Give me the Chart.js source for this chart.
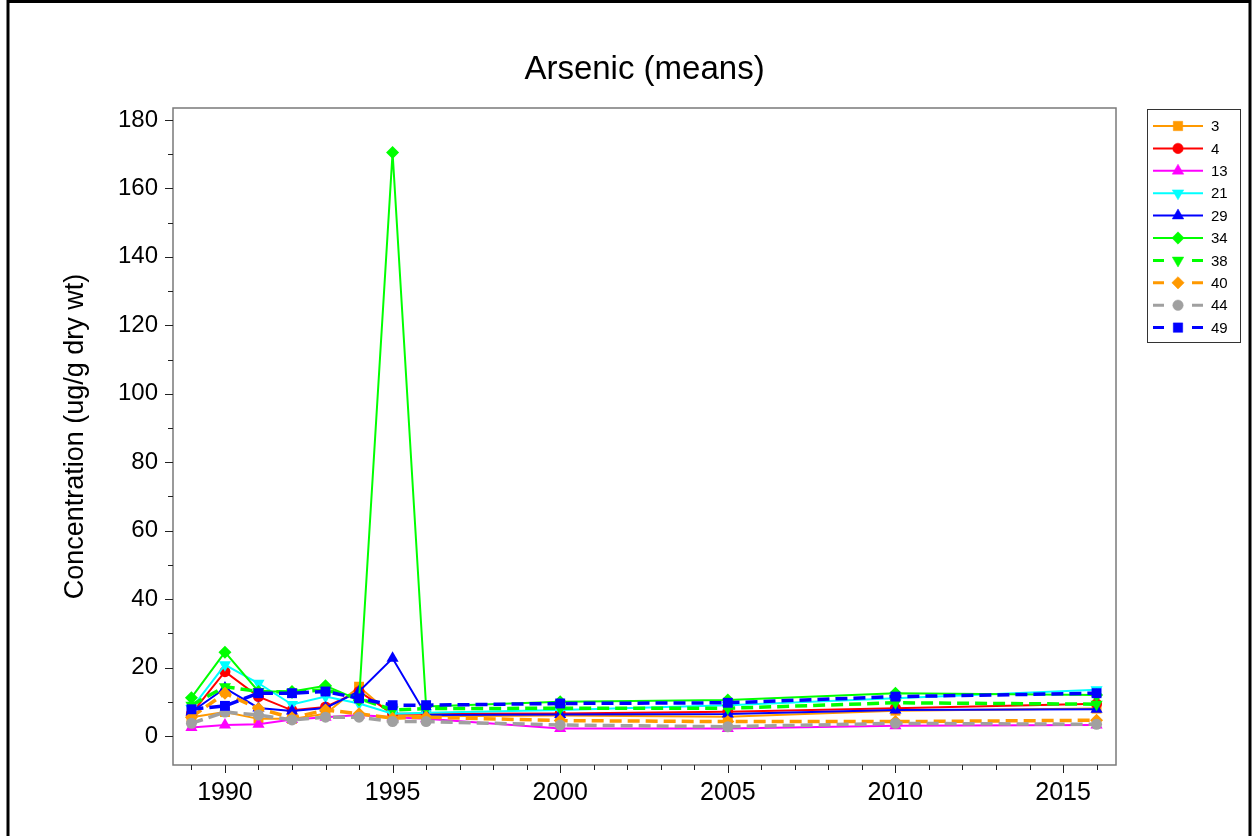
<!DOCTYPE html>
<html>
<head>
<meta charset="utf-8">
<script src="https://cdn.jsdelivr.net/npm/chart.js@4.4.1/dist/chart.umd.min.js"></script>
<style>
  html, body { margin: 0; padding: 0; background: #fff; overflow: hidden; }
  #wrap { width: 1253px; height: 836px; position: relative; }
</style>
</head>
<body>
<div id="wrap"><canvas id="arsenicChart" width="1253" height="836"></canvas></div>
<script>
// Sampling years and mean arsenic per site (ug/g dry wt)
const years = [1989, 1990, 1991, 1992, 1993, 1994, 1995, 1996, 2000, 2005, 2010, 2016];
const siteNames = ['3', '4', '13', '21', '29', '34', '38', '40', '44', '49'];

const site3  = [5.5, 7.0, 5.0, 5.0, 6.5, 14.4, 6.0, 5.8, 6.0, 5.6, 7.4, 8.0];
const site4  = [6.5, 18.8, 11.5, 7.5, 8.5, 13.0, 6.5, 6.5, 6.6, 7.1, 8.1, 9.4];
const site13 = [2.5, 3.2, 3.4, 4.8, 5.5, 6.1, 5.5, 5.0, 2.2, 2.2, 3.0, 3.2];
const site21 = [8.0, 20.8, 15.4, 9.2, 11.5, 9.5, 6.5, 6.8, 7.6, 9.0, 11.0, 13.5];
const site29 = [7.0, 14.0, 8.2, 7.3, 8.2, 13.0, 22.7, 6.1, 6.3, 6.4, 7.6, 7.8];
const site34 = [11.2, 24.5, 13.0, 13.0, 14.7, 10.5, 170.5, 8.6, 10.0, 10.5, 12.5, 12.0];
const site38 = [9.0, 14.4, 13.0, 12.8, 13.5, 11.0, 7.6, 8.0, 8.1, 8.1, 9.7, 9.3];
const site40 = [5.5, 12.5, 8.0, 5.3, 7.6, 6.5, 5.2, 5.5, 4.5, 4.2, 4.2, 4.6];
const site44 = [3.7, 7.0, 6.1, 4.7, 5.5, 5.5, 4.2, 4.2, 3.2, 2.7, 3.7, 3.4];
const site49 = [7.8, 8.8, 12.5, 12.5, 13.0, 11.0, 9.0, 9.0, 9.5, 9.7, 11.5, 12.5];

const xTickLabels = [1990, 1995, 2000, 2005, 2010, 2015];
const yTickLabels = [0, 20, 40, 60, 80, 100, 120, 140, 160, 180];

const siteValues = [site3, site4, site13, site21, site29, site34, site38, site40, site44, site49];

// line style per site: colour, marker, rotation, dashed
const styles = [
  { color: '#FF9900', marker: 'rect',     rot: 0,   dashed: false, r: 7 },
  { color: '#FF0000', marker: 'circle',   rot: 0,   dashed: false, r: 5.5 },
  { color: '#FF00FF', marker: 'triangle', rot: 0,   dashed: false, r: 7 },
  { color: '#00FFFF', marker: 'triangle', rot: 180, dashed: false, r: 7 },
  { color: '#0000FF', marker: 'triangle', rot: 0,   dashed: false, r: 7 },
  { color: '#00FF00', marker: 'rectRot',  rot: 0,   dashed: false, r: 6.5 },
  { color: '#00FF00', marker: 'triangle', rot: 180, dashed: true,  r: 7 },
  { color: '#FF9900', marker: 'rectRot',  rot: 0,   dashed: true,  r: 6.5 },
  { color: '#A0A0A0', marker: 'circle',   rot: 0,   dashed: true,  r: 5.5 },
  { color: '#0000FF', marker: 'rect',     rot: 0,   dashed: true,  r: 7 },
];

const datasets = siteValues.map((vals, i) => {
  const s = styles[i];
  return {
    label: siteNames[i],
    data: vals.map((v, j) => ({ x: years[j], y: v })),
    borderColor: s.color,
    backgroundColor: s.color,
    borderWidth: s.dashed ? 3.5 : 2,
    borderDash: s.dashed ? [12, 6] : [],
    pointStyle: s.marker,
    pointRotation: s.rot,
    pointRadius: s.r,
    pointBorderWidth: 0,
    pointBorderColor: s.color,
    pointBackgroundColor: s.color,
    tension: 0,
    order: siteValues.length - i,
  };
});

const FONT = '"Liberation Sans", Arial, sans-serif';

// frame, tick marks, titles and legend
const decorations = {
  id: 'decorations',
  afterDraw(chart) {
    const ctx = chart.ctx;
    const area = chart.chartArea;
    const xs = chart.scales.x, ys = chart.scales.y;
    ctx.save();

    // plot frame
    ctx.strokeStyle = '#7a7a7a';
    ctx.lineWidth = 1.5;
    ctx.strokeRect(area.left, area.top, area.right - area.left, area.bottom - area.top);

    // tick marks
    ctx.strokeStyle = '#222';
    ctx.lineWidth = 1;
    ctx.beginPath();
    for (let yr = 1989; yr <= 2016; yr++) {
      const px = Math.round(xs.getPixelForValue(yr)) + 0.5;
      const len = yr % 5 === 0 ? 8 : 5;
      ctx.moveTo(px, area.bottom);
      ctx.lineTo(px, area.bottom + len);
    }
    for (let v = 0; v <= 180; v += 10) {
      const py = Math.round(ys.getPixelForValue(v)) + 0.5;
      const len = v % 20 === 0 ? 8 : 5;
      ctx.moveTo(area.left, py);
      ctx.lineTo(area.left - len, py);
    }
    ctx.stroke();

    // chart title
    ctx.fillStyle = '#000';
    ctx.font = '33px ' + FONT;
    ctx.textAlign = 'center';
    ctx.textBaseline = 'middle';
    ctx.fillText('Arsenic (means)', (area.left + area.right) / 2, 70);

    // y axis title
    ctx.save();
    ctx.translate(76, (area.top + area.bottom) / 2);
    ctx.rotate(-Math.PI / 2);
    ctx.font = '27px ' + FONT;
    ctx.fillText('Concentration (ug/g dry wt)', 0, 0);
    ctx.restore();

    // legend box
    ctx.strokeStyle = '#333';
    ctx.lineWidth = 1;
    ctx.strokeRect(1147.5, 109.5, 93, 233);
    ctx.font = '15px ' + FONT;
    ctx.textAlign = 'left';
    chart.data.datasets.forEach((ds, i) => {
      const y = 126 + i * 22.4;
      ctx.strokeStyle = ds.borderColor;
      ctx.lineWidth = ds.borderDash.length ? 3 : 2;
      ctx.beginPath();
      if (ds.borderDash.length) {
        ctx.moveTo(1153, y); ctx.lineTo(1164, y);
        ctx.moveTo(1192, y); ctx.lineTo(1203, y);
      } else {
        ctx.moveTo(1153, y); ctx.lineTo(1203, y);
      }
      ctx.stroke();
      ctx.fillStyle = ds.pointBackgroundColor;
      ctx.strokeStyle = ds.pointBackgroundColor;
      ctx.lineWidth = 0.5;
      Chart.helpers.drawPoint(ctx, {
        pointStyle: ds.pointStyle,
        rotation: ds.pointRotation,
        radius: ds.pointRadius * 0.95,
        borderWidth: 0.5,
      }, 1178, y);
      ctx.fillStyle = '#000';
      ctx.fillText(ds.label, 1211, y + 1);
    });

    // outer border of the figure
    ctx.strokeStyle = '#000';
    ctx.lineWidth = 3;
    ctx.beginPath();
    ctx.moveTo(8, 840); ctx.lineTo(8, 1.5); ctx.lineTo(1250, 1.5); ctx.lineTo(1250, 840);
    ctx.stroke();

    ctx.restore();
  }
};

const ctx = document.getElementById('arsenicChart').getContext('2d');
const arsenicChart = new Chart(ctx, {
  type: 'line',
  data: { datasets },
  plugins: [decorations],
  options: {
    responsive: false,
    animation: false,
    devicePixelRatio: 1,
    layout: { padding: { top: 108, right: 137, left: 0, bottom: 0 } },
    plugins: {
      legend: { display: false },
      title: { display: false },
      tooltip: { enabled: false },
    },
    scales: {
      x: {
        type: 'linear',
        min: 1988.45,
        max: 2016.58,
        afterBuildTicks: scale => { scale.ticks = xTickLabels.map(v => ({ value: v })); },
        afterFit: scale => { scale.height = 71; },
        grid: { display: false, drawTicks: false },
        border: { display: false },
        ticks: {
          autoSkip: false,
          maxRotation: 0,
          padding: 13,
          color: '#000',
          font: { family: FONT, size: 25 },
          callback: v => String(v),
        },
      },
      y: {
        type: 'linear',
        min: -8.48,
        max: 183.5,
        afterBuildTicks: scale => { scale.ticks = yTickLabels.map(v => ({ value: v })); },
        afterFit: scale => { scale.width = 173; },
        grid: { display: false, drawTicks: false },
        border: { display: false },
        ticks: {
          autoSkip: false,
          padding: 15,
          color: '#000',
          font: { family: FONT, size: 24 },
          callback: v => String(v),
        },
      },
    },
  },
});
</script>
</body>
</html>
